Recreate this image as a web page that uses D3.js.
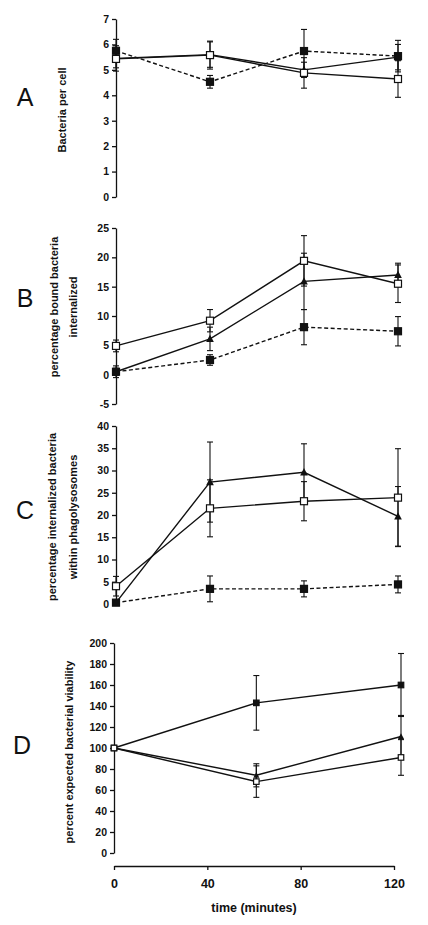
<!DOCTYPE html>
<html><head><meta charset="utf-8">
<script src="https://cdn.jsdelivr.net/npm/d3@7"></script>
<style>
body{margin:0;background:#fff;}
text{font-family:"Liberation Sans",Arial,Helvetica,sans-serif;}
</style></head>
<body>
<svg id="c" width="428" height="925"></svg>
<script>
// ---- data ----
const timesABC = [0, 40, 80, 120];
const timesD = [0, 61, 123];
const xTickLabels = [0, 40, 80, 120];

// Panel A: bacteria per cell
const aOpen = [5.43, 5.58, 4.88, 4.64];
const aOpenErr = [0.35, 0.55, 0.6, 0.72];
const aFilled = [5.75, 4.53, 5.74, 5.54];
const aFilledErr = [0.45, 0.25, 0.85, 0.62];
const aTri = [5.45, 5.6, 5.0, 5.5];
const aTriErr = [0.5, 0.5, 0.3, 0.5];
const aTicks = [0, 1, 2, 3, 4, 5, 6, 7];

// Panel B: percentage bound bacteria internalized
const bOpen = [4.9, 9.2, 19.4, 15.5];
const bOpenErr = [1.0, 1.9, 4.3, 3.2];
const bTri = [0.5, 6.1, 15.9, 17.0];
const bTriErr = [1.0, 2.0, 4.8, 2.0];
const bFilled = [0.5, 2.5, 8.1, 7.4];
const bFilledErr = [0.6, 0.9, 3.0, 2.5];
const bTicks = [-5, 0, 5, 10, 15, 20, 25];

// Panel C: percentage internalized bacteria within phagolysosomes
const cOpen = [4.0, 21.5, 23.1, 23.9];
const cOpenErr = [2.2, 6.4, 4.4, 11.0];
const cTri = [0.3, 27.4, 29.6, 19.7];
const cTriErr = [0.5, 9.0, 6.4, 6.7];
const cFilled = [0.3, 3.4, 3.4, 4.4];
const cFilledErr = [0.3, 2.9, 1.8, 1.9];
const cTicks = [0, 5, 10, 15, 20, 25, 30, 35, 40];

// Panel D: percent expected bacterial viability
const dFilled = [100, 143, 160];
const dFilledErr = [0, 26, 30];
const dTri = [100, 74, 111];
const dTriErr = [0, 11, 20];
const dOpen = [100, 68, 91];
const dOpenErr = [0, 15, 17];
const dTicks = [0, 20, 40, 60, 80, 100, 120, 140, 160, 180, 200];

// ---- drawing ----
const svg = d3.select("#c");
const FONT = '"Liberation Sans",Arial,Helvetica,sans-serif';
const fmt = d => String(d);

function panel(cfg) {
  const g = svg.append("g");
  const x = d3.scaleLinear().domain([0, 120]).range(cfg.xr);
  const y = d3.scaleLinear().domain(cfg.ydom).range(cfg.yr);
  const ax = g.append("g").attr("transform", `translate(${cfg.xr[0]},0)`)
    .call(d3.axisLeft(y).tickValues(cfg.ticks).tickSize(4).tickSizeOuter(0).tickPadding(3).tickFormat(fmt));
  ax.selectAll("path,line").attr("stroke", "#111").attr("stroke-width", 1.3);
  ax.selectAll("text").attr("font-family", FONT).attr("font-weight", "bold").attr("font-size", cfg.tickFs || 10.5).attr("fill", "#111");

  // panel letter
  g.append("text").attr("x", cfg.letterX).attr("y", cfg.letterY).attr("font-size", 25)
    .attr("fill", "#111").attr("text-anchor", "middle").attr("font-family", FONT).text(cfg.letter);

  // y title
  cfg.title.forEach((t, i) => {
    g.append("text").attr("transform", `translate(${t.x},${cfg.titleY}) rotate(-90)`)
      .attr("text-anchor", "middle").attr("font-weight", "bold").attr("font-size", 11)
      .attr("fill", "#111").attr("font-family", FONT).text(t.s);
  });

  const line = d3.line().x(d => x(d.t)).y(d => y(d.v));
  const cap = cfg.cap || 3;
  // error bars
  cfg.series.forEach(s => {
    const pts = s.times.map((t, i) => ({t, v: s.vals[i], e: s.errs[i]}));
    const eb = g.append("g").attr("stroke", "#111").attr("stroke-width", 1.1);
    pts.filter(p => p.e > 0).forEach(p => {
      const cx = x(p.t);
      eb.append("line").attr("x1", cx).attr("x2", cx).attr("y1", y(p.v - p.e)).attr("y2", y(p.v + p.e));
      [p.v - p.e, p.v + p.e].forEach(v => {
        eb.append("line").attr("x1", cx - cap).attr("x2", cx + cap).attr("y1", y(v)).attr("y2", y(v));
      });
    });
  });
  // lines
  cfg.series.forEach(s => {
    const pts = s.times.map((t, i) => ({t, v: s.vals[i]}));
    g.append("path").datum(pts).attr("d", line).attr("fill", "none")
      .attr("stroke", "#111").attr("stroke-width", 1.4)
      .attr("stroke-dasharray", s.dash ? "4,2.5" : null);
  });
  // markers
  const ms = cfg.ms;
  cfg.series.forEach(s => {
    const pts = s.times.map((t, i) => ({t, v: s.vals[i]}));
    pts.forEach(p => {
      const cx = x(p.t), cy = y(p.v);
      if (s.mark === "tri") {
        const h = ms * 1.0;
        g.append("path").attr("d", `M${cx},${cy - h * 0.6}L${cx + h * 0.55},${cy + h * 0.45}L${cx - h * 0.55},${cy + h * 0.45}Z`)
          .attr("fill", "#111");
      } else {
        g.append("rect").attr("x", cx - ms / 2).attr("y", cy - ms / 2).attr("width", ms).attr("height", ms)
          .attr("fill", s.mark === "filled" ? "#111" : "#fff").attr("stroke", "#111").attr("stroke-width", 1.2);
      }
    });
  });
  return {x, y, g};
}

panel({
  letter: "A", letterX: 25, letterY: 106,
  title: [{x: 66, s: "Bacteria per cell"}], titleY: 110,
  xr: [116, 398], ydom: [0, 7], yr: [197, 19], ticks: aTicks, ms: 7,
  series: [
    {times: timesABC, vals: aTri, errs: aTriErr, mark: "tri"},
    {times: timesABC, vals: aOpen, errs: aOpenErr, mark: "open"},
    {times: timesABC, vals: aFilled, errs: aFilledErr, mark: "filled", dash: true}
  ]
});

panel({
  letter: "B", letterX: 25, letterY: 307,
  title: [{x: 58, s: "percentage bound bacteria"}, {x: 77, s: "internalized"}], titleY: 307,
  xr: [116, 398], ydom: [-5, 25], yr: [404, 228], ticks: bTicks, ms: 7,
  series: [
    {times: timesABC, vals: bFilled, errs: bFilledErr, mark: "filled", dash: true},
    {times: timesABC, vals: bTri, errs: bTriErr, mark: "tri"},
    {times: timesABC, vals: bOpen, errs: bOpenErr, mark: "open"}
  ]
});

panel({
  letter: "C", letterX: 25, letterY: 519,
  title: [{x: 56, s: "percentage internalized bacteria"}, {x: 77, s: "within phagolysosomes"}], titleY: 517,
  xr: [116, 398], ydom: [0, 40], yr: [604, 426], ticks: cTicks, ms: 7,
  series: [
    {times: timesABC, vals: cFilled, errs: cFilledErr, mark: "filled", dash: true},
    {times: timesABC, vals: cTri, errs: cTriErr, mark: "tri"},
    {times: timesABC, vals: cOpen, errs: cOpenErr, mark: "open"}
  ]
});

const pd = panel({
  letter: "D", letterX: 22, letterY: 754,
  title: [{x: 73, s: "percent expected bacterial viability"}], titleY: 752,
  xr: [114, 394], ydom: [0, 200], yr: [853, 643], ticks: dTicks, ms: 5.5, cap: 3,
  series: [
    {times: timesD, vals: dFilled, errs: dFilledErr, mark: "filled"},
    {times: timesD, vals: dTri, errs: dTriErr, mark: "tri"},
    {times: timesD, vals: dOpen, errs: dOpenErr, mark: "open"}
  ]
});

// x axis (bottom of panel D)
const xa = svg.append("g").attr("transform", "translate(0,866)")
  .call(d3.axisBottom(pd.x).tickValues(xTickLabels).tickSize(4).tickSizeOuter(0).tickPadding(9).tickFormat(fmt));
xa.selectAll("path,line").attr("stroke", "#111").attr("stroke-width", 1.3);
xa.selectAll("text").attr("font-family", FONT).attr("font-weight", "bold").attr("font-size", 12.5).attr("fill", "#111");

svg.append("text").attr("x", 254).attr("y", 912).attr("text-anchor", "middle")
  .attr("font-weight", "bold").attr("font-size", 12.5).attr("fill", "#111").attr("font-family", FONT)
  .text("time (minutes)");
</script>
</body></html>
